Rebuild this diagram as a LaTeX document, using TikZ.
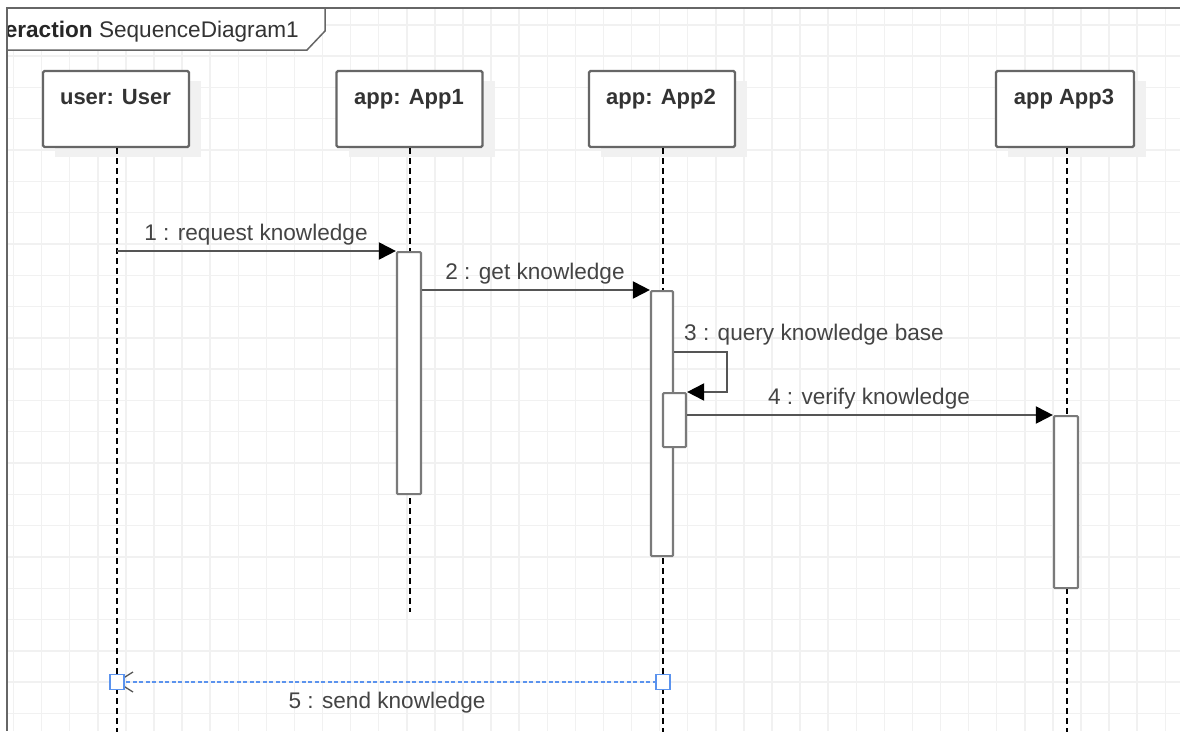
\documentclass[tikz,border=0pt]{standalone}
\usepackage{fontspec}
\setmainfont{Liberation Sans}
\usetikzlibrary{arrows.meta}

\definecolor{framecol}{HTML}{666666}
\definecolor{gridcol}{HTML}{F1F1F1}
\definecolor{linecol}{HTML}{555555}
\definecolor{barcol}{HTML}{7A7A7A}
\definecolor{txtcol}{HTML}{444444}
\definecolor{headtxt}{HTML}{333333}
\definecolor{selblue}{HTML}{5B93EE}
\definecolor{shadowcol}{HTML}{F1F1F1}

\tikzset{
  headbox/.style={draw=framecol, line width=2.2pt, fill=white, rounded corners=1.5pt,
    minimum width=146pt, minimum height=76pt, inner sep=0pt},
  headlabel/.style={anchor=base, font=\fontsize{22}{26}\selectfont\bfseries, text=headtxt, inner sep=0pt},
  lifeline/.style={draw=black, line width=1.2pt, dash pattern=on 6pt off 4pt},
  actbar/.style={draw=barcol, line width=2.2pt, fill=white, rounded corners=1pt,
    minimum width=23pt, inner sep=0pt, anchor=north},
  msg/.style={draw=linecol, line width=2pt,
    -{Triangle[length=17pt,width=17pt,color=black,fill=black]}},
  msglabel/.style={anchor=base, font=\fontsize{22.6}{26}\selectfont, text=txtcol, inner sep=0pt},
  handle/.style={draw=selblue, line width=1.6pt, fill=white,
    minimum width=14pt, minimum height=15pt, inner sep=0pt},
}

\begin{document}
\begin{tikzpicture}[x=1pt, y=-1pt]
\useasboundingbox (0,0) rectangle (1180,731);
\fill[white] (0,0) rectangle (1180,731);

% background grid inside the frame
\begin{scope}
  \clip (8,9) rectangle (1180,731);
  \foreach \k in {0,...,42} {
    \draw[gridcol, line width=1.4pt] ({13.55+28.09*\k},0) -- ({13.55+28.09*\k},731);
  }
  \foreach \k in {0,...,23} {
    \draw[gridcol, line width=1.4pt] (0,{24.8+31.3*\k}) -- (1180,{24.8+31.3*\k});
  }
\end{scope}

% frame name tab
\draw[framecol, line width=1.5pt, fill=white] (7,8) -- (325,8) -- (325,31) -- (307,50) -- (7,50);
\begin{scope}
  \clip (8,9) rectangle (320,49);
  \node[anchor=base west, inner sep=0pt, font=\fontsize{22.6}{26}\selectfont] (title) at (-23,37)
    {\textcolor{black!85}{\bfseries Interaction} \textcolor{headtxt}{SequenceDiagram1}};
\end{scope}

% frame border
\draw[framecol, line width=2.5pt] (1180,8) -- (7,8) -- (7,731);

% lifeline heads: shadows, boxes, labels
\foreach \cx/\w in {116/146, 409.5/146, 662/146, 1065/138} {
  \fill[shadowcol] ({\cx-\w/2+12},81) rectangle ({\cx+\w/2+12},157);
}
\node[headbox] (user) at (116,109) {};
\node[headbox] (appA) at (409.5,109) {};
\node[headbox] (appB) at (662,109) {};
\node[headbox, minimum width=138pt] (appC) at (1065,109) {};

\node[headlabel] (userlbl) at (115.5,104) {user: User};
\node[headlabel] (appAlbl) at (409,104) {app: App1};
\node[headlabel] (appBlbl) at (661,104) {app: App2};
\node[headlabel] (appClbl) at (1064,104) {app App3};

% lifelines
\coordinate (userEnd) at (117,735);
\coordinate (appAEnd) at (410,612);
\coordinate (appBEnd) at (663,735);
\coordinate (appCEnd) at (1067,735);
\draw[lifeline] (117,148) -- (userEnd);
\draw[lifeline] (410,148) -- (appAEnd);
\draw[lifeline] (663,148) -- (appBEnd);
\draw[lifeline] (1067,148) -- (appCEnd);

% activation bars
\node[actbar, minimum width=24pt, minimum height=242pt] (actA) at (409,251) {};
\node[actbar, minimum width=22pt, minimum height=265pt] (actB) at (662,290) {};
\node[actbar, minimum height=54pt] (actB2) at (674.5,392) {};
\node[actbar, minimum width=24pt, minimum height=172pt] (actC) at (1066,415) {};

% messages
\coordinate (m1start) at (117,251);
\draw[msg] (m1start) -- (actA.north west);
\node[msglabel] (m1lbl) at (256,240) {1 : request knowledge};

\draw[msg] ([yshift=-39pt]actA.north east) -- (actB.north west);
\node[msglabel] (m2lbl) at (535,279) {2 : get knowledge};

\draw[msg] ([yshift=-62pt]actB.north east) -- ++(53,0) |- (actB2.north east);
\node[msglabel, anchor=base west] (m3lbl) at (684,340) {3 : query knowledge base};

\draw[msg] ([yshift=-23pt]actB2.north east) -- (actC.north west);
\node[msglabel] (m4lbl) at (869,404) {4 : verify knowledge};

% selected return message with its end handles
\coordinate (r5end) at (117,682);
\coordinate (r5start) at (663,682);
\draw[selblue, line width=2pt, dash pattern=on 4pt off 2.5pt] (r5start) -- (r5end);
\draw[linecol, line width=1.3pt] ([xshift=16pt,yshift=10pt]r5end) -- (r5end) -- ([xshift=16pt,yshift=-10pt]r5end);
\node[handle] (h1) at (r5end) {};
\node[handle] (h2) at (r5start) {};
\node[msglabel] (m5lbl) at (387,708) {5 : send knowledge};
\end{tikzpicture}
\end{document}
